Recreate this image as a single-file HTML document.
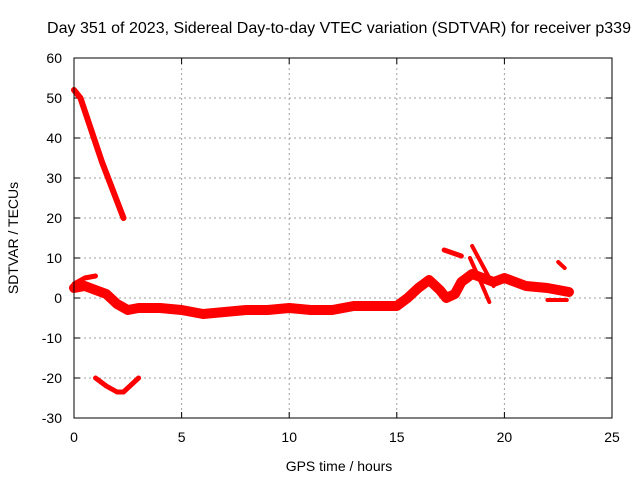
<!DOCTYPE html>
<html><head><meta charset="utf-8"><style>
body{margin:0;background:#fff}
svg{display:block;font-family:"Liberation Sans",sans-serif}
</style></head><body>
<svg id="c" width="640" height="480">
<rect width="640" height="480" fill="#fff"/>
<text x="339" y="33" font-size="16" text-anchor="middle" textLength="584" lengthAdjust="spacingAndGlyphs">Day 351 of 2023, Sidereal Day-to-day VTEC variation (SDTVAR) for receiver p339</text>
<text x="339" y="471" font-size="14" text-anchor="middle">GPS time / hours</text>
<text x="18" y="238" font-size="14" text-anchor="middle" transform="rotate(-90 18 238)">SDTVAR / TECUs</text>
<g id="grid"></g><g id="marks"></g>
<rect x="74" y="58" width="538" height="360" fill="none" stroke="#000"/>
</svg>
<script>
const xTicks=[0,5,10,15,20,25];
const yTicks=[-30,-20,-10,0,10,20,30,40,50,60];
const seriesDescent=[[0,52],[0.3,50],[0.8,42],[1.3,34],[1.8,27],[2.3,20]];
const seriesNegArc=[[1,-20],[1.5,-22],[2,-23.5],[2.3,-23.5],[2.7,-21.5],[3,-20]];
const seriesMain=[[0,2.5],[0.5,3],[1,2],[1.5,1],[2,-1.5],[2.5,-3],[3,-2.5],[4,-2.5],[5,-3],[6,-4],[7,-3.5],[8,-3],[9,-3],[10,-2.5],[11,-3],[12,-3],[13,-2],[14,-2],[15,-2],[15.5,0],[16,2.5],[16.5,4.5],[17,2],[17.3,0],[17.7,1],[18,4],[18.5,6],[19,5],[19.5,4],[20,5],[21,3],[22,2.5],[22.5,2],[23,1.5]];
const seriesUpperStart=[[0,3.5],[0.5,5],[1,5.5]];
const seriesSpikeA=[[17.2,12],[18,10.5]];
const seriesSpikeB=[[18.5,13],[19,8],[19.5,3]];
const seriesSpikeC=[[18.4,10],[18.9,4],[19.3,-1]];
const seriesLateA=[[22.5,9],[22.8,7.5]];
const seriesLateB=[[22,-0.5],[22.9,-0.5]];
const X=v=>74+v*538/25, Y=v=>298-v*4;
const ns="http://www.w3.org/2000/svg";
const g=document.getElementById('grid'), m=document.getElementById('marks');
function el(t,a,p){const e=document.createElementNS(ns,t);for(const k in a)e.setAttribute(k,a[k]);p.appendChild(e);return e;}
xTicks.forEach(t=>{
 if(t>0&&t<25){const l=el('line',{x1:X(t),x2:X(t),y1:58,y2:418,stroke:'#a0a0a0','stroke-dasharray':'2,3'},g);
 
 }
 el('line',{x1:X(t),x2:X(t),y1:418,y2:412,stroke:'#000'},g);el('line',{x1:X(t),x2:X(t),y1:58,y2:64,stroke:'#000'},g);
 const s=el('text',{x:X(t),y:442,'font-size':14,'text-anchor':'middle'},g);s.textContent=t;
 
 
});
yTicks.forEach(t=>{
 if(t>-30&&t<60){const l=el('line',{x1:74,x2:612,y1:Y(t),y2:Y(t),stroke:'#a0a0a0','stroke-dasharray':'2,3'},g);
 
 }
 el('line',{x1:74,x2:80,y1:Y(t),y2:Y(t),stroke:'#000'},g);el('line',{x1:606,x2:612,y1:Y(t),y2:Y(t),stroke:'#000'},g);
 const s=el('text',{x:62,y:Y(t)+5,'font-size':14,'text-anchor':'end'},g);s.textContent=t;
 
 
});
function draw(d,w,name){
 const p=el('polyline',{points:d.map(q=>X(q[0])+','+Y(q[1])).join(' '),fill:'none',stroke:'#f00','stroke-width':w,'stroke-linejoin':'round','stroke-linecap':'round'},m);
 
 
}
draw(seriesDescent,6,'series-descent');
draw(seriesNegArc,5,'series-negative-arc');
draw(seriesMain,10,'series-main-band');
draw(seriesUpperStart,5,'series-upper-start');
draw(seriesSpikeA,5,'series-spike-a');
draw(seriesSpikeB,4,'series-spike-b');
draw(seriesSpikeC,4,'series-spike-c');
draw(seriesLateA,4,'series-late-a');
draw(seriesLateB,4,'series-late-b');
</script>
</body></html>
